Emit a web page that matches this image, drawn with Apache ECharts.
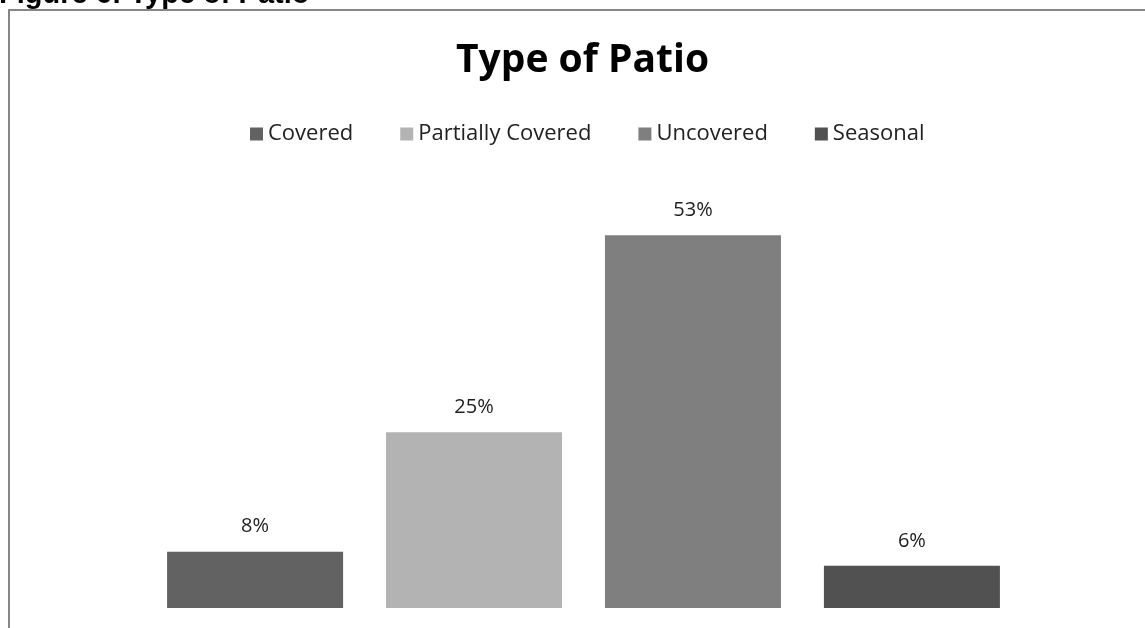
<!DOCTYPE html>
<html>
<head>
<meta charset="utf-8">
<script src="https://cdn.jsdelivr.net/npm/echarts@6/dist/echarts.min.js"></script>
<style>
  html, body { margin: 0; padding: 0; background: #fff; }
  #main { width: 1145px; height: 628px; }
</style>
</head>
<body>
<div id="main"></div>
<script>
  // 数据
  var seriesNames = ['Covered', 'Partially Covered', 'Uncovered', 'Seasonal'];
  var seriesValues = [8, 25, 53, 6];
  var seriesColors = ['#626262', '#b3b3b3', '#7f7f7f', '#515151'];
  var category = ['Type of Patio'];

  var myChart = echarts.init(document.getElementById('main'));

  var series = [];
  for (var i = 0; i < seriesNames.length; i++) {
    series.push({
      name: seriesNames[i],
      type: 'bar',
      barWidth: 176,
      barGap: '24.4%',
      itemStyle: { color: seriesColors[i] },
      label: {
        show: true,
        position: 'top',
        distance: 15,
        color: '#222',
        fontFamily: 'Open Sans',
        fontSize: 20,
        formatter: '{c}%'
      },
      data: [seriesValues[i]]
    });
  }

  var option = {
    animation: false,
    backgroundColor: '#fff',
    title: {
      text: 'Type of Patio',
      left: 451,
      top: 36,
      textStyle: {
        fontFamily: 'Open Sans',
        fontWeight: 'bold',
        fontSize: 39,
        color: '#000'
      }
    },
    legend: {
      top: 118,
      left: 245,
      itemWidth: 13,
      itemHeight: 13,
      itemGap: 47,
      icon: 'rect',
      textStyle: {
        fontFamily: 'Open Sans',
        fontSize: 22,
        color: '#222'
      },
      data: seriesNames
    },
    grid: {
      left: 100,
      width: 967,
      top: 186,
      bottom: 20
    },
    xAxis: [{
      type: 'category',
      data: category,
      axisLine: { show: false },
      axisTick: { show: false },
      axisLabel: { show: false },
      splitLine: { show: false }
    }],
    yAxis: [{
      type: 'value',
      min: 0,
      max: 60,
      show: false
    }],
    graphic: [
      {
        type: 'text',
        left: -1,
        top: -20,
        style: {
          text: 'Figure 6: Type of Patio',
          font: 'bold 29px "Liberation Sans", Arial',
          fill: '#000'
        }
      },
      {
        type: 'rect',
        shape: { x: 9, y: 10, width: 1200, height: 700 },
        style: { fill: 'none', stroke: '#868686', lineWidth: 2 }
      }
    ],
    series: series
  };
  myChart.setOption(option, true);
</script>
</body>
</html>
